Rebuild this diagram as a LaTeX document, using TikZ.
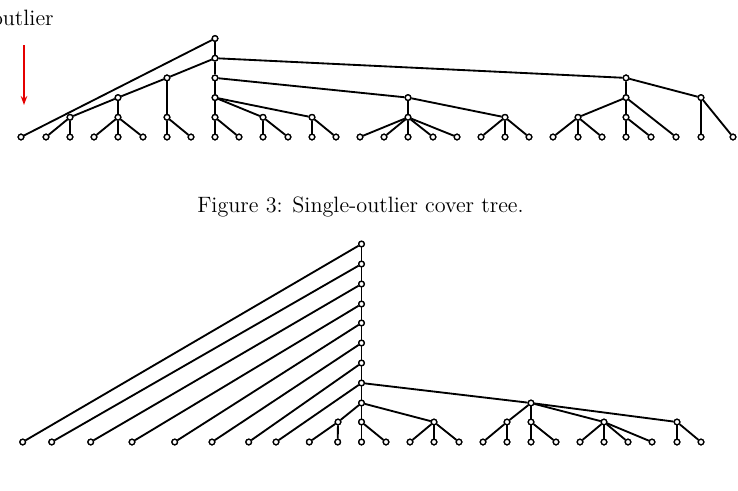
\documentclass[tikz,border=0pt]{standalone}
\usetikzlibrary{arrows.meta}
\begin{document}
\begin{tikzpicture}[x=1pt,y=-1pt,
  vtx/.style={circle,draw=black,fill=white,line width=1.3pt,inner sep=0pt,minimum size=5.6pt},
  edge/.style={line width=1.85pt,black},
  lbl/.style={font=\fontsize{12}{14}\selectfont,scale=1.85,transform shape}]
\useasboundingbox (0,0) rectangle (738,490);
\clip (0,0) rectangle (738,490);
% ---------- top tree ----------
\def\ya{38.5}\def\yb{58.2}\def\yc{77.9}\def\yd{97.6}\def\ye{117.3}\def\yf{137}
\node[vtx] (t0) at (215,\ya) {};
\node[vtx] (t1) at (215,\yb) {};
\node[vtx] (t2) at (215,\yc) {};
\node[vtx] (t3) at (215,\yd) {};
\node[vtx] (t4) at (215,\ye) {};
\node[vtx] (a2) at (167,\yc) {};
\node[vtx] (a3) at (118,\yd) {};
\node[vtx] (a4) at (70,\ye) {};
\node[vtx] (b4) at (118,\ye) {};
\node[vtx] (c4) at (167,\ye) {};
\node[vtx] (d4) at (263,\ye) {};
\node[vtx] (e4) at (312,\ye) {};
\node[vtx] (f3) at (408,\yd) {};
\node[vtx] (f4) at (408,\ye) {};
\node[vtx] (g4) at (505,\ye) {};
\node[vtx] (h2) at (626,\yc) {};
\node[vtx] (h3) at (626,\yd) {};
\node[vtx] (h4) at (626,\ye) {};
\node[vtx] (i4) at (578,\ye) {};
\node[vtx] (j3) at (701,\yd) {};
\foreach \n/\x in {0/21,1/46,2/70,3/94,4/118,5/143,6/167,7/191,8/215,9/239,10/263,11/288,12/312,13/336,14/360,15/384,16/408,17/433,18/457,19/481,20/505,21/529,22/553,23/578,24/602,25/626,26/651,27/676,28/701,29/733}
  \node[vtx] (L\n) at (\x,\yf) {};
\begin{scope}[edge]
\draw (t0) -- (t1) -- (t2) -- (t3) -- (t4) -- (L8);
\draw (t0) -- (L0);
\draw (t1) -- (a2) -- (a3) -- (a4);
\draw (a4) -- (L1); \draw (a4) -- (L2);
\draw (a3) -- (b4);
\draw (b4) -- (L3); \draw (b4) -- (L4); \draw (b4) -- (L5);
\draw (a2) -- (c4);
\draw (c4) -- (L6); \draw (c4) -- (L7);
\draw (t4) -- (L9);
\draw (t3) -- (d4); \draw (d4) -- (L10); \draw (d4) -- (L11);
\draw (t3) -- (e4); \draw (e4) -- (L12); \draw (e4) -- (L13);
\draw (t2) -- (f3) -- (f4);
\foreach \k in {14,...,18} \draw (f4) -- (L\k);
\draw (f3) -- (g4);
\foreach \k in {19,20,21} \draw (g4) -- (L\k);
\draw (t1) -- (h2) -- (h3) -- (h4);
\draw (h3) -- (i4);
\foreach \k in {22,23,24} \draw (i4) -- (L\k);
\draw (h4) -- (L25); \draw (h4) -- (L26);
\draw (h3) -- (L27);
\draw (h2) -- (j3);
\draw (j3) -- (L28); \draw (j3) -- (L29);
\end{scope}
% redraw vertices on top
\foreach \v in {t0,t1,t2,t3,t4,a2,a3,a4,b4,c4,d4,e4,f3,f4,g4,h2,h3,h4,i4,j3}
  \node[vtx] at (\v) {};
\foreach \n in {0,...,29} \node[vtx] at (L\n) {};
% outlier label
\node[lbl,anchor=base east,inner sep=0pt] (olab) at (54,25) {outlier};
\coordinate (oa) at (24,45);
\coordinate (ob) at (24,105);
\draw[red!90!black,line width=1.3pt,-{Stealth[length=9pt,width=6.5pt]}] (oa) -- (ob);
% caption
\node[lbl,anchor=base,inner sep=0pt] (cap) at (360.5,212) {Figure 3: Single-outlier cover tree.};
% ---------- bottom tree ----------
\foreach \i/\y in {0/244,1/264,2/284,3/304,4/323,5/343,6/363,7/383,8/403,9/422,10/442}
  \node[vtx] (r\i) at (361.5,\y) {};
\node[vtx] (p) at (338,422) {};
\node[vtx] (q) at (434,422) {};
\node[vtx] (s) at (531,403) {};
\node[vtx] (s1) at (507,422) {};
\node[vtx] (s2) at (531,422) {};
\node[vtx] (u) at (604,422) {};
\node[vtx] (w) at (677,422) {};
\foreach \n/\x in {0/22.7,1/51.7,2/90.7,3/132,4/174.7,5/212,6/248.7,7/276,8/309.3,9/337.7,11/386,12/410,13/434,14/459,15/483,16/507,17/531,18/556,19/580,20/604,21/628,22/652,23/677,24/701}
  \node[vtx] (B\n) at (\x,442) {};
\begin{scope}[edge]
\draw (r0) -- (r1) -- (r2) -- (r3) -- (r4) -- (r5) -- (r6) -- (r7) -- (r8) -- (r9) -- (r10);
\foreach \k in {0,...,7} \draw (r\k) -- (B\k);
\draw (r8) -- (p); \draw (p) -- (B8); \draw (p) -- (B9);
\draw (r9) -- (B11);
\draw (r8) -- (q);
\foreach \k in {12,13,14} \draw (q) -- (B\k);
\draw (r7) -- (s);
\draw (s) -- (s1); \draw (s1) -- (B15); \draw (s1) -- (B16);
\draw (s) -- (s2); \draw (s2) -- (B17); \draw (s2) -- (B18);
\draw (s) -- (u);
\foreach \k in {19,...,22} \draw (u) -- (B\k);
\draw (s) -- (w); \draw (w) -- (B23); \draw (w) -- (B24);
\end{scope}
\foreach \v in {p,q,s,s1,s2,u,w} \node[vtx] at (\v) {};
\foreach \i in {0,...,10} \node[vtx] at (r\i) {};
\foreach \n in {0,...,9,11,12,...,24} \node[vtx] at (B\n) {};
\end{tikzpicture}
\end{document}
